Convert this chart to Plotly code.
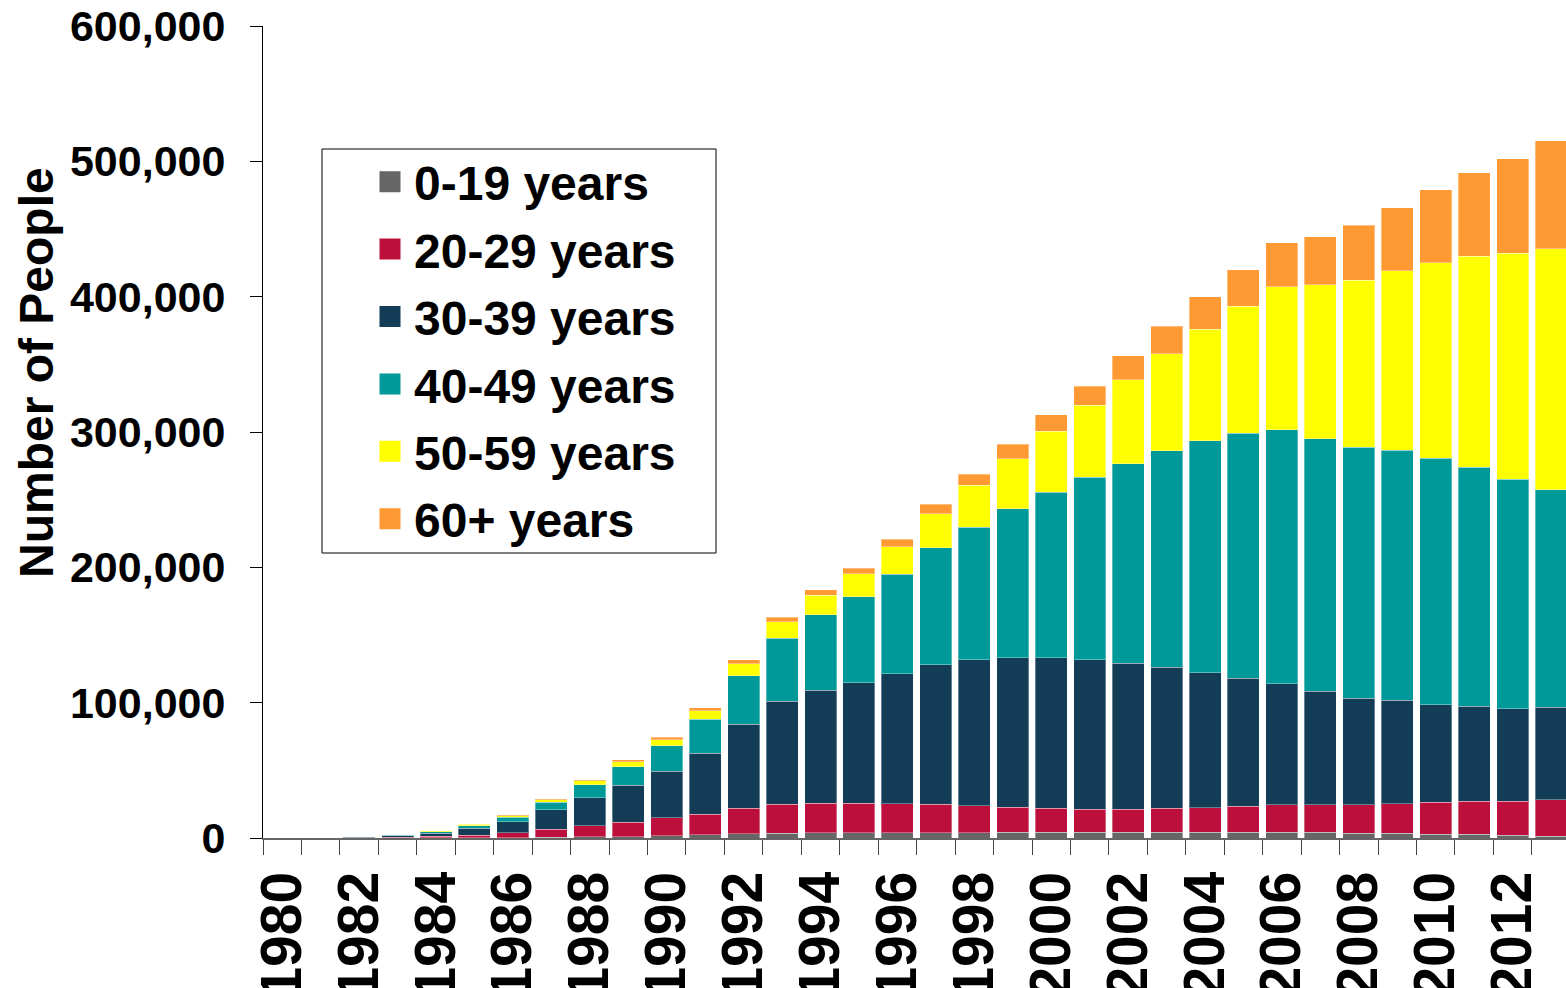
import plotly.graph_objects as go

years = list(range(1980, 2014))
age_0_19 = [0, 20, 50, 50, 100, 200, 300, 500, 1000, 1000, 1700, 2500, 3000, 3400, 3700, 3900, 3900, 3900, 3900,
            4400, 4400, 4400, 4400, 4100, 4100, 4100, 4100, 4100, 3400, 3400, 2700, 2700, 2000, 1400]
age_20_29 = [20, 80, 250, 400, 1100, 2000, 3400, 5900, 8100, 10800, 13100, 15200, 19100, 21700, 22100, 21900,
             21400, 21200, 20000, 18500, 17700, 17000, 17000, 17900, 18300, 19300, 20300, 20300, 21000, 22000,
             23700, 24400, 25100, 26700]
age_30_39 = [40, 150, 400, 1100, 2200, 4900, 8400, 14300, 20700, 27300, 34600, 45000, 62000, 75800, 83400, 89100,
             96200, 103100, 107700, 110200, 111200, 110200, 107800, 104100, 99600, 94600, 89500, 84100, 79000,
             76300, 72200, 70200, 68500, 68500]
age_40_49 = [20, 60, 150, 600, 1200, 2000, 3400, 5900, 9600, 13500, 18700, 25100, 35700, 46700, 55600, 63200,
             73300, 86100, 97900, 110200, 122300, 135100, 147400, 160000, 171600, 181000, 187800, 186400, 185400,
             184800, 182100, 176600, 169500, 160700]
age_50_59 = [10, 30, 150, 250, 600, 900, 1000, 1700, 2900, 3700, 4500, 6200, 9100, 12300, 14500, 17000, 20500,
             25300, 31300, 37100, 45000, 52900, 62100, 71900, 82400, 93900, 105800, 113900, 123400, 132800,
             144400, 156000, 167100, 178000]
age_60_plus = [10, 10, 50, 100, 200, 300, 700, 700, 700, 1500, 1700, 2200, 3000, 3400, 4000, 4200, 5400, 7100,
               8100, 10400, 12300, 14200, 17800, 20000, 24000, 27100, 32500, 35600, 40700, 46500, 53900, 61700,
               69800, 80000]

series_names = ["0-19 years", "20-29 years", "30-39 years", "40-49 years", "50-59 years", "60+ years"]
series_values = [age_0_19, age_20_29, age_30_39, age_40_49, age_50_59, age_60_plus]
series_colors = ["#666666", "#BC0F3B", "#133D57", "#009999", "#FFFF00", "#FF9933"]

tick_years = years[::2]
tick_labels = [str(y) for y in tick_years]

FONT = "Liberation Sans, Arial, sans-serif"

fig = go.Figure()
for name, vals, col in zip(series_names, series_values, series_colors):
    fig.add_trace(go.Bar(
        x=years, y=vals, name=name, legendgroup=name, showlegend=False,
        marker=dict(color=col, line=dict(color="rgba(255,255,255,0.35)", width=1)),
    ))
# legend entries (larger square swatches), linked to the bar traces by legendgroup
for name, col in zip(series_names, series_colors):
    fig.add_trace(go.Scatter(
        x=[None], y=[None], name=name, legendgroup=name, mode="markers",
        marker=dict(symbol="square", size=16, color=col, line=dict(color=col, width=5)),
        hoverinfo="skip",
    ))

W, H = 1566, 988
L, R, T, B = 263, 0, 26, 150
pw, ph = W - L - R, H - T - B

def px_x(px):
    return (px - L) / pw

def px_y(py):
    return (H - B - py) / ph

fig.update_layout(
    width=W, height=H,
    margin=dict(l=L, r=R, t=T, b=B, autoexpand=False),
    barmode="stack", bargap=0.168,
    paper_bgcolor="white", plot_bgcolor="white",
    font=dict(family=FONT, color="black"),
    showlegend=True,
    legend=dict(
        x=px_x(366), y=px_y(144), xanchor="left", yanchor="top",
        traceorder="grouped", tracegroupgap=2, itemwidth=38, itemsizing="trace",
        font=dict(family=FONT, size=48, weight="bold", color="black"),
        bgcolor="rgba(0,0,0,0)", borderwidth=0,
    ),
    shapes=[dict(
        type="rect", xref="paper", yref="paper",
        x0=px_x(322), x1=px_x(716), y0=px_y(553), y1=px_y(149),
        line=dict(color="black", width=1), fillcolor="white", layer="below",
    )],
    annotations=[dict(
        text="Number of People", xref="paper", yref="paper",
        x=px_x(36), y=px_y(373), xanchor="center", yanchor="middle",
        textangle=-90, showarrow=False,
        font=dict(family=FONT, size=48, weight="bold", color="black"),
    )],
)

fig.update_xaxes(
    range=[1979.5, 1979.5 + pw / 38.45],
    tickmode="array", tickvals=tick_years, ticktext=tick_labels,
    tickangle=-90, ticks="", ticklabelstandoff=9,
    tickfont=dict(family=FONT, size=57, weight="bold", color="black"),
    showline=True, linecolor="#666666", linewidth=2,
    showgrid=False, zeroline=False, automargin=False,
    minor=dict(ticks="outside", ticklen=15, tickwidth=1, tickcolor="#444444",
               tickmode="linear", tick0=1979.5, dtick=1, showgrid=False),
)
fig.update_yaxes(
    range=[0, 600000], tickmode="linear", tick0=0, dtick=100000, tickformat=",",
    ticks="outside", ticklen=12, tickwidth=1, tickcolor="black", ticklabelstandoff=16,
    tickfont=dict(family=FONT, size=43, weight="bold", color="black"),
    showline=True, linecolor="black", linewidth=1,
    showgrid=False, zeroline=False, automargin=False,
)

fig.write_html("out.html", config={"displayModeBar": False},
               post_script="document.body.style.margin='0';")
